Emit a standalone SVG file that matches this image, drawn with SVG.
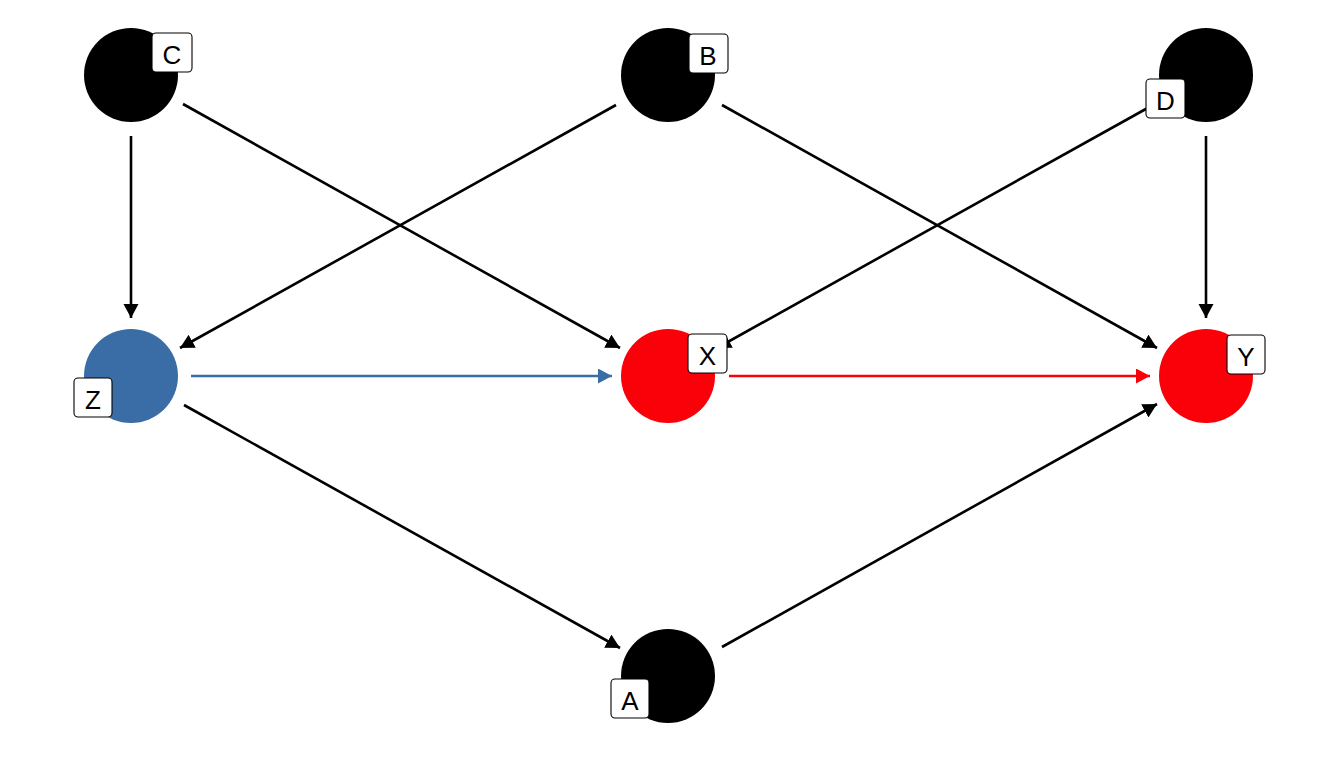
<svg xmlns="http://www.w3.org/2000/svg" width="1330" height="760" viewBox="0 0 1330 760">
<style>
.e{stroke:#000;stroke-width:2.6;fill:none;marker-end:url(#ak)}
.eb{stroke:#3A6DA5;stroke-width:2.6;fill:none;marker-end:url(#ab)}
.er{stroke:#FA0008;stroke-width:2.6;fill:none;marker-end:url(#ar)}
.lb{fill:#fff;stroke:#000;stroke-width:1.1}
.lt{font-family:"Liberation Sans",Arial,sans-serif;font-size:26px;text-anchor:middle;fill:#000}
</style>
<defs>
<marker id="ak" markerUnits="userSpaceOnUse" markerWidth="16" markerHeight="16" refX="14" refY="7.5" orient="auto"><path d="M0,0L14,7.5L0,15z" fill="#000"/></marker>
<marker id="ab" markerUnits="userSpaceOnUse" markerWidth="16" markerHeight="16" refX="14" refY="7.5" orient="auto"><path d="M0,0L14,7.5L0,15z" fill="#3A6DA5"/></marker>
<marker id="ar" markerUnits="userSpaceOnUse" markerWidth="16" markerHeight="16" refX="14" refY="7.5" orient="auto"><path d="M0,0L14,7.5L0,15z" fill="#FA0008"/></marker>
</defs>
<rect width="1330" height="760" fill="#fff"/>
<g id="connectors">
<line class="e" x1="131" y1="136" x2="131" y2="318"/>
<line class="e" x1="183" y1="104" x2="620" y2="348"/>
<line class="e" x1="616" y1="105" x2="180" y2="348"/>
<line class="e" x1="722" y1="105" x2="1157" y2="348"/>
<line class="e" x1="1153" y1="105" x2="717" y2="348"/>
<line class="e" x1="1206" y1="136" x2="1206" y2="318"/>
<line class="eb" x1="191" y1="376" x2="612" y2="376"/>
<line class="er" x1="729" y1="376" x2="1150" y2="376"/>
<line class="e" x1="184" y1="405" x2="620" y2="648"/>
<line class="e" x1="722" y1="647" x2="1157" y2="404"/>
</g>
<g id="node-C">
<circle cx="131" cy="75" r="47" fill="#000"/>
<rect class="lb" x="152" y="33" width="40" height="39" rx="4"/>
<text class="lt" x="172" y="64">C</text>
</g>
<g id="node-B">
<circle cx="668" cy="75" r="47" fill="#000"/>
<rect class="lb" x="689" y="34" width="39" height="39" rx="4"/>
<text class="lt" x="708" y="65">B</text>
</g>
<g id="node-D">
<circle cx="1206" cy="75" r="47" fill="#000"/>
<rect class="lb" x="1146" y="79" width="39" height="39" rx="4"/>
<text class="lt" x="1165.5" y="110">D</text>
</g>
<g id="node-Z">
<circle cx="131" cy="376" r="47" fill="#3A6DA5"/>
<rect class="lb" x="74" y="378" width="38" height="39" rx="4"/>
<text class="lt" x="93" y="409">Z</text>
</g>
<g id="node-X">
<circle cx="668" cy="376" r="47" fill="#FA0008"/>
<rect class="lb" x="688" y="334" width="39" height="39" rx="4"/>
<text class="lt" x="707.5" y="365">X</text>
</g>
<g id="node-Y">
<circle cx="1206" cy="376" r="47" fill="#FA0008"/>
<rect class="lb" x="1227" y="335" width="38" height="39" rx="4"/>
<text class="lt" x="1246" y="366">Y</text>
</g>
<g id="node-A">
<circle cx="668" cy="676" r="47" fill="#000"/>
<rect class="lb" x="611" y="679" width="38" height="39" rx="4"/>
<text class="lt" x="630" y="710">A</text>
</g>
</svg>
